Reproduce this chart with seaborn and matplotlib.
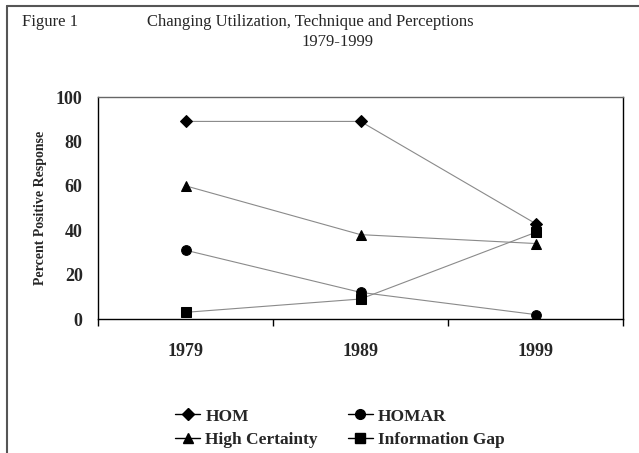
import pandas as pd
import matplotlib
matplotlib.use('Agg')
import matplotlib.pyplot as plt
from matplotlib.lines import Line2D
from matplotlib.ticker import FixedLocator
import seaborn as sns

# --- Data ---
years = ['1979', '1989', '1999']
hom = [89, 89, 43]
homar = [31, 12, 2]
high_certainty = [60, 38, 34]
information_gap = [3, 9, 39]

series_names = ['HOM', 'HOMAR', 'High Certainty', 'Information Gap']
series_values = [hom, homar, high_certainty, information_gap]
series_markers = ['D', 'o', '^', 's']
marker_sizes = [6, 7, 7.5, 7]

rows = []
for name, vals in zip(series_names, series_values):
    for yr, v in zip(years, vals):
        rows.append({'Year': yr, 'Value': v, 'Series': name})
data = pd.DataFrame(rows)

# --- Styling ---
sns.set_style('white')
plt.rcParams['font.family'] = ['Liberation Serif', 'DejaVu Serif']

fig = plt.figure(figsize=(6.39, 4.53), dpi=100)
ax = fig.add_axes([98 / 639, 1 - 319 / 453, 525 / 639, 222 / 453])

for name, mk, ms in zip(series_names, series_markers, marker_sizes):
    sub = data[data['Series'] == name]
    sns.lineplot(data=sub, x='Year', y='Value', ax=ax, color='#8a8a8a',
                 linewidth=0.8, marker=mk, markersize=ms,
                 markerfacecolor='black', markeredgecolor='black',
                 legend=False, zorder=3)

ax.set_xlim(-0.5, 2.5)
ax.set_ylim(0, 100)
ax.set_yticks([0, 20, 40, 60, 80, 100])
ax.set_xticks([0, 1, 2])
ax.set_xticklabels(years)
ax.xaxis.set_minor_locator(FixedLocator([-0.5, 0.5, 1.5, 2.5]))
ax.tick_params(axis='x', which='major', length=0, pad=17, labelsize=13)
ax.tick_params(axis='x', which='minor', length=5, width=1, direction='out',
               color='black', bottom=True)
ax.tick_params(axis='y', length=0, pad=11, labelsize=13)
for lbl in ax.get_xticklabels() + ax.get_yticklabels():
    lbl.set_fontweight('bold')

for sp in ax.spines.values():
    sp.set_visible(True)
    sp.set_color('black')
    sp.set_linewidth(1)
ax.spines['top'].set_color('#666666')

ax.set_xlabel('')
ax.set_ylabel('Percent Positive Response', fontsize=10, fontweight='bold')
ax.yaxis.set_label_coords(-51 / 525, 0.5)

# --- Titles ---
fig.text(22 / 639, 1 - 22 / 453, 'Figure 1', fontsize=12, va='center', ha='left')
fig.text(310 / 639, 1 - 22 / 453, 'Changing Utilization, Technique and Perceptions',
         fontsize=12, va='center', ha='center')
fig.text(337 / 639, 1 - 42 / 453, '1979-1999', fontsize=12, va='center', ha='center')

# --- Legend ---
handles = []
for name, mk, ms in zip(series_names, series_markers, marker_sizes):
    handles.append(Line2D([], [], color='black', linewidth=1, marker=mk,
                          markersize=ms, markerfacecolor='black',
                          markeredgecolor='black', label=name))
order = [0, 2, 1, 3]
fig.legend([handles[i] for i in order], [series_names[i] for i in order],
           ncol=2, loc='center left', bbox_to_anchor=(175 / 639, 1 - 428 / 453),
           frameon=False, borderpad=0, borderaxespad=0,
           handlelength=1.45, handletextpad=0.3,
           columnspacing=1.7, labelspacing=0.4,
           prop={'family': 'Liberation Serif', 'weight': 'bold', 'size': 12.5})

# --- Page border (left and top) ---
fig.add_artist(Line2D([7 / 639, 7 / 639], [0, 1 - 6 / 453], color='#555555',
                      linewidth=1.5, transform=fig.transFigure))
fig.add_artist(Line2D([7 / 639, 1], [1 - 6 / 453, 1 - 6 / 453], color='#555555',
                      linewidth=1.5, transform=fig.transFigure))

fig.savefig('out.png', dpi=100)
